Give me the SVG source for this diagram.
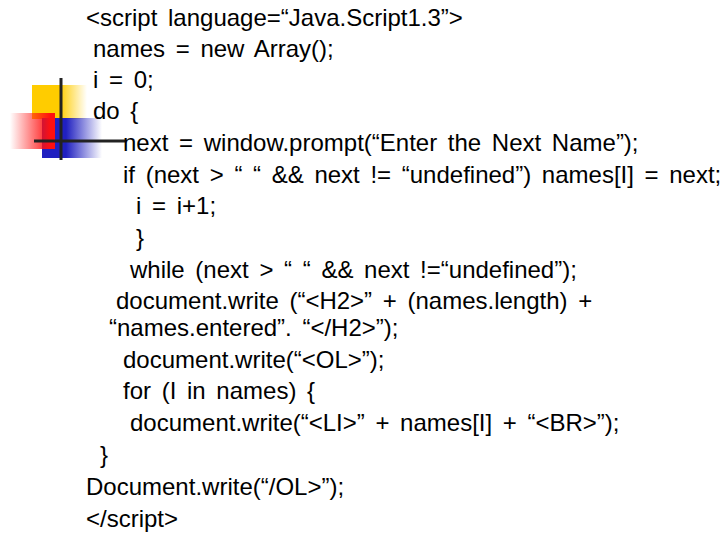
<svg xmlns="http://www.w3.org/2000/svg" width="720" height="540" viewBox="0 0 720 540">
<defs>
<linearGradient id="gy" x1="0" x2="1"><stop offset="0.5" stop-color="#ffcc00"/><stop offset="1" stop-color="#ffcc00" stop-opacity="0"/></linearGradient>
<linearGradient id="gr" x1="1" x2="0"><stop offset="0.1" stop-color="#ff1010"/><stop offset="1" stop-color="#ff1010" stop-opacity="0"/></linearGradient>
<linearGradient id="gb" x1="0" x2="1"><stop offset="0.4" stop-color="#2020c0"/><stop offset="1" stop-color="#2020c0" stop-opacity="0"/></linearGradient>
<style>text{font-family:"Liberation Sans",Arial,sans-serif;font-size:24px;fill:#000;word-spacing:4px}</style>
</defs>
<rect width="720" height="540" fill="#fff"/>
<g id="decor">
<rect x="32" y="85" width="55" height="34" fill="url(#gy)"/>
<rect x="42" y="118" width="60" height="40" fill="url(#gb)"/>
<rect x="10" y="113" width="45" height="36" fill="url(#gr)"/>
<line x1="61" y1="78" x2="61" y2="160" stroke="#222" stroke-width="3"/>
<line x1="34" y1="141" x2="125" y2="141" stroke="#222" stroke-width="3"/>
</g>
<g id="code">
<text x="86" y="26">&lt;script language=“Java.Script1.3”&gt;</text>
<text x="93" y="57">names = new Array();</text>
<text x="93" y="88">i = 0;</text>
<text x="93" y="119">do {</text>
<text x="123" y="151">next = window.prompt(“Enter the Next Name”);</text>
<text x="123" y="183">if (next &gt; “ “ &amp;&amp; next != “undefined”) names[I] = next;</text>
<text x="136" y="214">i = i+1;</text>
<text x="136" y="246">}</text>
<text x="130" y="278">while (next &gt; “ “ &amp;&amp; next !=“undefined”);</text>
<text x="116" y="309">document.write (“&lt;H2&gt;” + (names.length) +</text>
<text x="109" y="336">“names.entered”. “&lt;/H2&gt;”);</text>
<text x="123" y="368">document.write(“&lt;OL&gt;”);</text>
<text x="123" y="399">for (I in names) {</text>
<text x="130" y="431">document.write(“&lt;LI&gt;” + names[I] + “&lt;BR&gt;”);</text>
<text x="100" y="463">}</text>
<text x="86" y="495">Document.write(“/OL&gt;”);</text>
<text x="86" y="527">&lt;/script&gt;</text>
</g>
</svg>
